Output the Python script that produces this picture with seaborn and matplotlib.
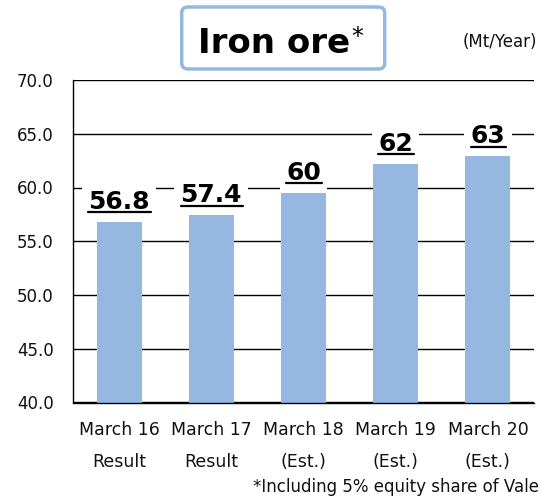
import matplotlib
matplotlib.use('Agg')
import matplotlib.pyplot as plt
from matplotlib.patches import FancyBboxPatch
from matplotlib.lines import Line2D
import numpy as np
import pandas as pd
import seaborn as sns

sns.set_style('white')
plt.rcParams['font.family'] = ['DejaVu Sans']

# Chart data
periods = ['March 16', 'March 17', 'March 18', 'March 19', 'March 20']
kinds = ['Result', 'Result', '(Est.)', '(Est.)', '(Est.)']
volumes = [56.8, 57.4, 59.5, 62.2, 62.9]
value_labels = ['56.8', '57.4', '60', '62', '63']
y_ticks = [40, 45, 50, 55, 60, 65, 70]

bar_color = '#95B7E0'
text_color = '#111111'

df = pd.DataFrame({'period': periods, 'volume': volumes})

fig = plt.figure(figsize=(5.41, 4.96), dpi=100)
ax = fig.add_axes([73 / 541, 1 - 402.5 / 496, 461 / 541, 322.5 / 496])

sns.barplot(data=df, x='period', y='volume', color=bar_color, saturation=1,
            width=0.49, linewidth=0, edgecolor='none', ax=ax, zorder=2)

ax.set_ylim(y_ticks[0], y_ticks[-1])
ax.set_xlim(-0.5, len(periods) - 0.5)
ax.set_yticks(y_ticks)
ax.set_yticklabels([f'{t:.1f}' for t in y_ticks], fontsize=12, color=text_color)
ax.set_xticks(range(len(periods)))
ax.set_xticklabels([f'{p}\n{k}' for p, k in zip(periods, kinds)],
                   fontsize=12.5, color=text_color, linespacing=2.0)
ax.set_xticks(np.arange(len(periods)) + 0.5, minor=True)
ax.tick_params(axis='x', which='major', length=0, pad=13.5)
ax.tick_params(axis='x', which='minor', direction='in', length=4.5, width=1, color='black')
ax.tick_params(axis='y', length=0, pad=14)
ax.set_xlabel('')
ax.set_ylabel('')

ax.yaxis.grid(True, color='black', lw=1)
ax.set_axisbelow(True)
for side in ['top', 'right']:
    ax.spines[side].set_visible(False)
for side in ['left', 'bottom']:
    ax.spines[side].set_color('black')
    ax.spines[side].set_linewidth(1)

# value labels, bold with white backing and an underline
texts = []
for i, (v, lab) in enumerate(zip(volumes, value_labels)):
    t = ax.annotate(lab, xy=(i, v), xytext=(0, 9.5), textcoords='offset points',
                    ha='center', va='baseline', fontsize=18, fontweight='bold',
                    color='black', zorder=1.5,
                    bbox=dict(facecolor='white', edgecolor='none', pad=4.5))
    texts.append((t, i, v))

fig.canvas.draw()
for t, i, v in texts:
    ext = t.get_window_extent()
    _, y_disp = ax.transData.transform((i, v))
    y_line = y_disp + 9.5
    fig.add_artist(Line2D([ext.x0, ext.x1 + 1], [y_line, y_line], transform=None,
                          color='black', lw=1.6, zorder=5))

# title box
box = FancyBboxPatch((181.7 / 541, 1 - 69 / 496), 203 / 541, 62 / 496,
                     boxstyle='round,pad=0,rounding_size=0.012',
                     transform=fig.transFigure, facecolor='white',
                     edgecolor=bar_color, lw=2.5, zorder=3)
fig.add_artist(box)
fig.text(198 / 541, 1 - 53.3 / 496, 'Iron ore', fontsize=24.5, fontweight='bold',
         color='black', ha='left', va='baseline', zorder=4)
fig.text(351 / 541, 1 - 25 / 496, '*', fontsize=17, color='black',
         ha='left', va='top', zorder=4)

fig.text(537 / 541, 1 - 42 / 496, '(Mt/Year)', fontsize=12, ha='right', va='center',
         color=text_color)
fig.text(539 / 541, 1 - 492 / 496, '*Including 5% equity share of Vale', fontsize=12,
         ha='right', va='baseline', color=text_color)

fig.savefig('out.png', dpi=100)
